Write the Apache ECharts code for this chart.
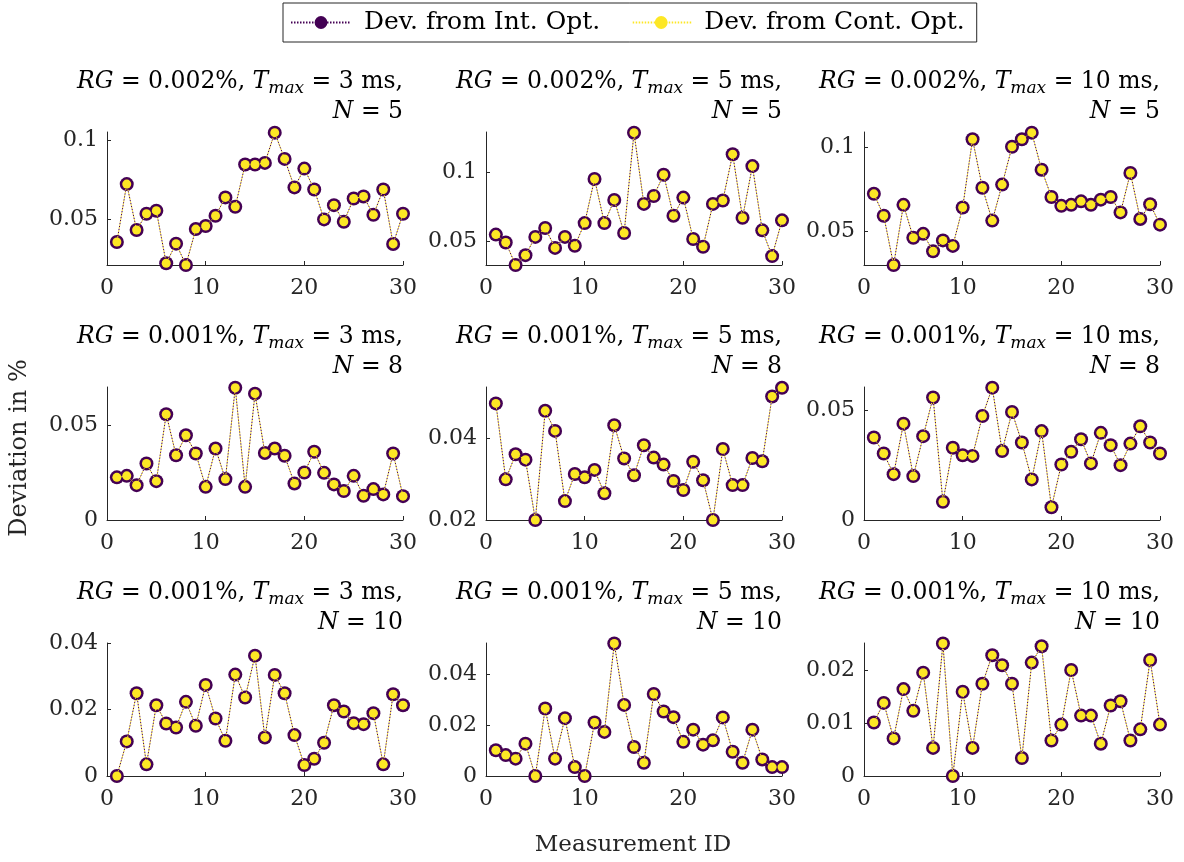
<!DOCTYPE html>
<html>
<head>
<meta charset="utf-8">
<script src="https://cdn.jsdelivr.net/npm/echarts@6/dist/echarts.min.js"></script>
<style>
  html, body { margin: 0; padding: 0; background: #ffffff; }
  #chart { width: 1184px; height: 862px; }
</style>
</head>
<body>
<div id="chart"></div>
<script>
// Measurement IDs shared by every panel
const measurementIds = [1, 2, 3, 4, 5, 6, 7, 8, 9, 10, 11, 12, 13, 14, 15,
  16, 17, 18, 19, 20, 21, 22, 23, 24, 25, 26, 27, 28, 29, 30];

// Panel settings: relative gap, max. time, number of segments
const rgLabels = ['0.002', '0.002', '0.002', '0.001', '0.001', '0.001', '0.001', '0.001', '0.001'];
const tmaxLabels = ['3', '5', '10', '3', '5', '10', '3', '5', '10'];
const nLabels = ['5', '5', '5', '8', '8', '8', '10', '10', '10'];

// Deviation in % per measurement (integer and continuous optimum coincide)
const devRg002T3N5 = [0.0357, 0.0723, 0.0433, 0.0536, 0.0555, 0.0223, 0.0347, 0.0212, 0.0439, 0.0458,
  0.0523, 0.0639, 0.0580, 0.0847, 0.0847, 0.0857, 0.1048, 0.0882, 0.0702, 0.0821,
  0.0689, 0.0500, 0.0590, 0.0485, 0.0632, 0.0645, 0.0529, 0.0689, 0.0345, 0.0536];
const devRg002T5N5 = [0.0546, 0.0488, 0.0324, 0.0396, 0.0529, 0.0594, 0.0449, 0.0529, 0.0464, 0.0630,
  0.0952, 0.0630, 0.0799, 0.0558, 0.1290, 0.0770, 0.0828, 0.0983, 0.0684, 0.0816,
  0.0514, 0.0457, 0.0770, 0.0795, 0.1133, 0.0669, 0.1046, 0.0577, 0.0389, 0.0650];
const devRg002T10N5 = [0.0723, 0.0592, 0.0298, 0.0657, 0.0461, 0.0484, 0.0380, 0.0445, 0.0412, 0.0641,
  0.1049, 0.0759, 0.0563, 0.0778, 0.1004, 0.1049, 0.1088, 0.0867, 0.0704, 0.0651,
  0.0657, 0.0678, 0.0657, 0.0688, 0.0704, 0.0612, 0.0847, 0.0573, 0.0661, 0.0539];
const devRg001T3N8 = [0.0225, 0.0233, 0.0184, 0.0298, 0.0205, 0.0558, 0.0342, 0.0447, 0.0351, 0.0175,
  0.0377, 0.0216, 0.0698, 0.0175, 0.0667, 0.0354, 0.0377, 0.0339, 0.0193, 0.0251,
  0.0360, 0.0249, 0.0188, 0.0153, 0.0233, 0.0128, 0.0163, 0.0135, 0.0351, 0.0126];
const devRg001T5N8 = [0.0484, 0.0299, 0.0360, 0.0347, 0.0200, 0.0466, 0.0417, 0.0246, 0.0312, 0.0304,
  0.0322, 0.0265, 0.0431, 0.0350, 0.0309, 0.0382, 0.0352, 0.0335, 0.0295, 0.0273,
  0.0342, 0.0297, 0.0200, 0.0373, 0.0285, 0.0285, 0.0351, 0.0343, 0.0501, 0.0522];
const devRg001T10N8 = [0.0376, 0.0303, 0.0209, 0.0439, 0.0200, 0.0382, 0.0558, 0.0083, 0.0329, 0.0295,
  0.0292, 0.0474, 0.0603, 0.0314, 0.0492, 0.0353, 0.0185, 0.0405, 0.0058, 0.0253,
  0.0311, 0.0368, 0.0258, 0.0397, 0.0341, 0.0250, 0.0348, 0.0427, 0.0353, 0.0303];
const devRg001T3N10 = [0.0000, 0.0104, 0.0249, 0.0035, 0.0213, 0.0158, 0.0146, 0.0223, 0.0151, 0.0274,
  0.0173, 0.0106, 0.0305, 0.0236, 0.0362, 0.0116, 0.0304, 0.0249, 0.0123, 0.0033,
  0.0052, 0.0100, 0.0213, 0.0194, 0.0159, 0.0156, 0.0189, 0.0035, 0.0246, 0.0213];
const devRg001T5N10 = [0.0101, 0.0082, 0.0068, 0.0127, 0.0000, 0.0265, 0.0068, 0.0227, 0.0035, 0.0000,
  0.0210, 0.0173, 0.0520, 0.0279, 0.0114, 0.0052, 0.0322, 0.0253, 0.0231, 0.0134,
  0.0182, 0.0123, 0.0140, 0.0230, 0.0095, 0.0052, 0.0182, 0.0065, 0.0035, 0.0035];
const devRg001T10N10 = [0.0101, 0.0138, 0.0071, 0.0164, 0.0123, 0.0195, 0.0053, 0.0250, 0.0000, 0.0159,
  0.0053, 0.0174, 0.0228, 0.0209, 0.0174, 0.0034, 0.0214, 0.0245, 0.0067, 0.0097,
  0.0200, 0.0114, 0.0114, 0.0061, 0.0133, 0.0141, 0.0067, 0.0088, 0.0219, 0.0097];

const panelValues = [devRg002T3N5, devRg002T5N5, devRg002T10N5,
  devRg001T3N8, devRg001T5N8, devRg001T10N8,
  devRg001T3N10, devRg001T5N10, devRg001T10N10];

// Y-axis limits and tick values per panel
const yMins = [0.0212, 0.0324, 0.0298, 0, 0.02, 0, 0, 0, 0];
const yMaxs = [0.1052, 0.1295, 0.1092, 0.0702, 0.0524, 0.0606, 0.04, 0.0522, 0.0251];
const yTickValues = [[0.05, 0.1], [0.05, 0.1], [0.05, 0.1], [0, 0.05], [0.02, 0.04], [0, 0.05],
  [0, 0.02, 0.04], [0, 0.02, 0.04], [0, 0.01, 0.02]];

const seriesNames = ['Dev. from Int. Opt.', 'Dev. from Cont. Opt.'];

// ---- layout ----
const FONT = 'DejaVu Serif';
const INK = '#262626';
const PURPLE = '#440154';
const YELLOW = '#fde725';
const colLeft = [107, 486, 864];
const rowTop = [132, 387, 643];
const plotW = 296;
const plotH = 133;

const grids = [], xAxes = [], yAxes = [], series = [], graphics = [];

panelValues.forEach((vals, k) => {
  const r = Math.floor(k / 3), c = k % 3;
  const left = colLeft[c], top = rowTop[r];
  grids.push({ left: left, top: top, width: plotW, height: plotH, containLabel: false });
  xAxes.push({
    type: 'value', gridIndex: k, min: 0, max: 30, interval: 10,
    axisLine: { show: true, lineStyle: { color: INK, width: 1 } },
    axisTick: { show: true, inside: true, length: 4, lineStyle: { color: INK } },
    axisLabel: { color: INK, fontFamily: FONT, fontSize: 22, margin: 12 },
    splitLine: { show: false }
  });
  yAxes.push({
    type: 'value', gridIndex: k, min: yMins[k], max: yMaxs[k],
    axisLine: { show: true, onZero: false, lineStyle: { color: INK, width: 1 } },
    axisTick: { show: true, inside: true, length: 4, customValues: yTickValues[k], lineStyle: { color: INK } },
    axisLabel: {
      color: INK, fontFamily: FONT, fontSize: 22, margin: 9,
      customValues: yTickValues[k],
      formatter: v => String(parseFloat(v.toFixed(4)))
    },
    splitLine: { show: false }
  });
  const pts = measurementIds.map((id, i) => [id, vals[i]]);
  series.push({
    name: seriesNames[0], type: 'line', xAxisIndex: k, yAxisIndex: k,
    data: pts, symbol: 'circle', symbolSize: 14, showSymbol: true,
    itemStyle: { color: PURPLE },
    lineStyle: { color: PURPLE, width: 1, type: [1.5, 1.5] },
    emphasis: { disabled: true }, animation: false, z: 2
  });
  series.push({
    name: seriesNames[1], type: 'line', xAxisIndex: k, yAxisIndex: k,
    data: pts, symbol: 'circle', symbolSize: 9, showSymbol: true,
    itemStyle: { color: YELLOW },
    lineStyle: { color: YELLOW, width: 1, type: [1.5, 1.5], dashOffset: 1.5 },
    emphasis: { disabled: true }, animation: false, z: 3
  });
  // two-line panel title, right-aligned to the plot edge
  graphics.push({
    type: 'text', x: left + plotW, y: top - 65,
    style: {
      text: '{i|RG} = ' + rgLabels[k] + '%, {i|T}{s|max} = ' + tmaxLabels[k] + ' ms,\n{i|N} = ' + nLabels[k],
      align: 'right', verticalAlign: 'top',
      font: '23.5px "' + FONT + '"', fill: '#000', lineHeight: 30,
      rich: {
        i: { fontStyle: 'italic', fontFamily: FONT, fontSize: 23.5, lineHeight: 30, fill: '#000' },
        s: { fontStyle: 'italic', fontFamily: FONT, fontSize: 17, lineHeight: 16, verticalAlign: 'bottom', fill: '#000' }
      }
    }
  });
});

graphics.push({
  type: 'text', x: 633, y: 845,
  style: { text: 'Measurement ID', align: 'center', verticalAlign: 'middle', font: '23px "' + FONT + '"', fill: INK }
});
graphics.push({
  type: 'text', x: 20, y: 448, rotation: Math.PI / 2,
  style: { text: 'Deviation in %', align: 'center', verticalAlign: 'middle', font: '24px "' + FONT + '"', fill: INK }
});

const chart = echarts.init(document.getElementById('chart'), null, { renderer: 'canvas' });
chart.setOption({
  backgroundColor: '#ffffff',
  animation: false,
  legend: {
    data: seriesNames,
    top: 3, left: 283,
    orient: 'horizontal',
    itemWidth: 60, itemHeight: 16, itemGap: 30,
    padding: [7, 12, 7, 7],
    borderColor: INK, borderWidth: 1,
    backgroundColor: '#ffffff',
    selectedMode: false,
    textStyle: { fontFamily: FONT, fontSize: 25, color: '#000', padding: [0, 0, 0, 8] }
  },
  grid: grids,
  xAxis: xAxes,
  yAxis: yAxes,
  series: series,
  graphic: graphics
});
</script>
</body>
</html>
